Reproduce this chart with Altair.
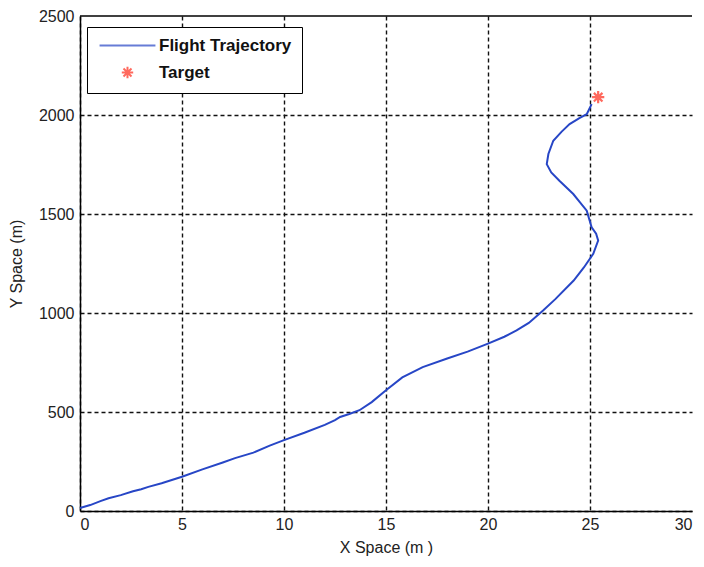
import altair as alt
import pandas as pd

# Flight trajectory
traj_x = [0.0, 0.5, 1.0, 1.4, 2.0, 2.6, 3.0, 3.35, 4.0, 5.0, 6.0, 7.0, 7.6, 8.5, 9.3,
          10.0, 11.0, 12.0, 12.5, 12.75, 13.2, 13.7, 14.3, 15.0, 15.8, 16.8, 18.0, 19.0,
          20.0, 20.8, 21.4, 22.0, 22.7, 23.3, 24.2, 24.7, 25.16, 25.4, 25.3, 25.08, 24.84,
          24.5, 24.18, 23.5, 23.1, 22.88, 22.96, 23.2, 23.6, 24.0, 24.5, 24.84, 25.08]
traj_y = [15, 30, 50, 64, 80, 100, 110, 122, 140, 173, 210, 245, 267, 295, 330,
          358, 395, 435, 459, 475, 490, 509, 550, 610, 675, 727, 770, 805,
          845, 880, 912, 950, 1013, 1070, 1164, 1230, 1299, 1366, 1400, 1433, 1517,
          1560, 1601, 1668, 1710, 1752, 1803, 1870, 1915, 1954, 1985, 2004, 2055]
target_x = [25.4]
target_y = [2090]

series_names = ["Flight Trajectory", "Target"]
series_colors = ["#2746c6", "#ff2a1a"]
x_ticks = [0, 5, 10, 15, 20, 25, 30]
y_ticks = [0, 500, 1000, 1500, 2000, 2500]

line_df = pd.DataFrame({"x": traj_x, "y": traj_y, "i": list(range(len(traj_x))),
                        "s": series_names[0]})
tgt_df = pd.DataFrame({"x": target_x, "y": target_y, "s": series_names[1]})

asterisk = "M-1,0L1,0M0,-1L0,1M-0.7,-0.7L0.7,0.7M-0.7,0.7L0.7,-0.7"
legend_line = "M-4.9,0L4.9,0"

font = "Liberation Sans"

xscale = alt.Scale(domain=[0, 30], nice=False, zero=False)
yscale = alt.Scale(domain=[0, 2500], nice=False, zero=False)

xaxis = alt.Axis(values=x_ticks, title="X Space (m )", grid=True, tickSize=0,
                 labelPadding=5, titlePadding=7, format="d",
                 gridOpacity={"condition": {"test": "datum.value >= 30", "value": 0}, "value": 1})
yaxis = alt.Axis(values=y_ticks, title="Y Space (m)", grid=True, tickSize=0,
                 labelPadding=6, titlePadding=14, format="d",
                 gridOpacity={"condition": {"test": "datum.value >= 2500", "value": 0}, "value": 1})

color = alt.Color("s:N", scale=alt.Scale(domain=series_names, range=series_colors),
                  legend=alt.Legend(title=None, orient="none", legendX=7, legendY=11,
                                    strokeColor="black", fillColor="white",
                                    padding=10, rowPadding=8, labelFontSize=17,
                                    labelFontWeight="bold", labelFont=font,
                                    symbolStrokeWidth=2, symbolSize=130,
                                    symbolOffset=22, labelOffset=23,
                                    labelColor="#111"))
shape = alt.Shape("s:N", scale=alt.Scale(domain=series_names, range=[legend_line, asterisk]),
                  legend=alt.Legend(title=None))

line = alt.Chart(line_df).mark_line(strokeWidth=2).encode(
    x=alt.X("x:Q", scale=xscale, axis=xaxis),
    y=alt.Y("y:Q", scale=yscale, axis=yaxis),
    order="i:Q",
    color=color,
)

pts = alt.Chart(tgt_df).mark_point(filled=False, strokeWidth=2.2, size=150).encode(
    x=alt.X("x:Q", scale=xscale),
    y=alt.Y("y:Q", scale=yscale),
    color=color,
    shape=shape,
)

top = alt.Chart(tgt_df).mark_rule(strokeWidth=1.5, color="black").encode(
    x=alt.value(0), x2=alt.value(612), y=alt.value(0)
)

chart = alt.layer(top, line, pts).properties(
    width=612, height=495,
    autosize=alt.AutoSizeParams(type="none"),
    padding={"left": 72, "top": 8, "right": 2, "bottom": 48},
).configure_view(stroke=None).configure_axis(
    labelFont=font, titleFont=font, labelFontSize=16, titleFontSize=16,
    titleFontWeight="normal", labelColor="#222", titleColor="#222",
    domainColor="black", domainWidth=1.5,
    gridColor="#111", gridDash=[4, 3], gridWidth=1.4,
)

chart.save("out.html", embed_options={"renderer": "svg", "actions": False})
